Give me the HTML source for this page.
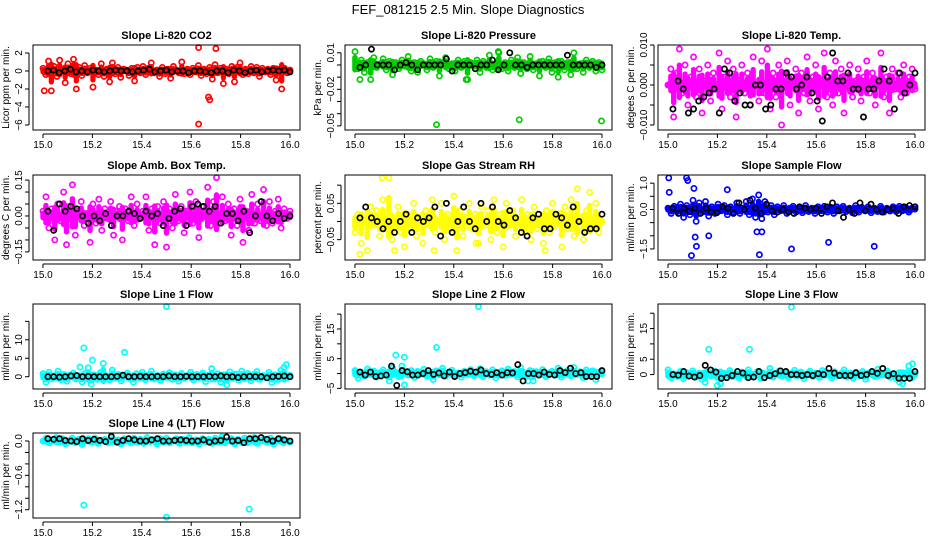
<!DOCTYPE html>
<html><head><meta charset="utf-8"><style>
body{margin:0;background:#fff;}
svg{display:block;font-family:"Liberation Sans",Arial,sans-serif;}
</style></head><body>
<svg id="chart" width="936" height="540" viewBox="0 0 936 540">
<rect width="936" height="540" fill="#fff"/>
<text x="468" y="14" text-anchor="middle" font-size="13">FEF_081215  2.5 Min. Slope Diagnostics</text>
</svg>
<script>
// ---- data (x evenly spaced over 15.0..16.0 for band and black series) ----
const xTicks = [15.0, 15.2, 15.4, 15.6, 15.8, 16.0];
const xTickLabels = ["15.0", "15.2", "15.4", "15.6", "15.8", "16.0"];

const co2Vals = [0.3,-0.4,1.1,-2.2,0.5,-0.6,1.2,0.2,-1.3,0.8,-0.3,1.3,-2.0,0.4,-0.5,0.6,-0.2,0.3,-1.8,0.1,-0.4,0.8,-0.6,0.2,-1.2,0.9,-0.3,0.4,-0.7,0.2,0.1,-0.5,0.3,-1.1,0.4,-0.2,0.5,-0.4,0.3,0.9,-0.2,0.1,-0.6,0.4,-0.3,0.2,-0.8,0.5,0.1,-0.2,1.0,-0.3,0.2,-0.4,0.3,-0.1,0.6,-0.5,0.2,-0.3,0.4,-0.9,0.7,-0.2,0.3,-1.4,0.2,-0.3,0.5,-1.2,0.4,0.9,-0.4,0.2,-0.3,0.5,-0.2,0.4,-0.6,0.3,-0.1,0.2,-0.4,0.3,-1.0,0.2,-2.0,0.3,-0.2,0.1];
const co2Black = [0.0,0.1,-0.2,0.0,0.2,-0.1,0.0,-0.1,0.1,0.0,-0.1,0.0,0.1,0.0,0.0,-0.1,0.0,0.1,0.2,-0.1,0.0,0.1,-0.1,0.0,0.0,-0.2,0.0,0.0,-0.1,-0.2,0.0,0.0,-0.2,0.1,0.0,-0.2,0.0,0.1,-0.1,0.0,0.1,0.0,0.1,-0.1];
const co2OutX = [15.63,15.70,15.63,15.67,15.675,15.005];
const co2OutY = [2.6,2.5,-5.9,-2.9,-3.2,-2.2];

const presVals = [0.011,-0.003,0.004,-0.006,0.002,-0.012,0.006,-0.002,0.001,0.005,-0.004,0.003,-0.008,0.002,-0.003,0.004,-0.001,0.007,-0.005,0.002,-0.006,0.003,0.001,-0.004,0.005,-0.002,0.003,-0.009,0.002,0.006,-0.003,0.001,-0.005,0.004,-0.002,0.003,-0.012,0.002,-0.001,0.004,-0.006,0.003,-0.002,0.008,-0.004,0.001,0.010,-0.003,0.002,-0.005,0.004,-0.002,0.006,-0.007,0.002,-0.003,0.007,-0.004,0.001,-0.009,0.003,-0.002,0.005,-0.006,0.002,-0.010,0.003,-0.004,0.002,-0.008,0.010,-0.003,0.001,-0.006,0.004,-0.002,0.003,-0.005,0.002,-0.004];
const presBlack = [-0.002,0.000,0.013,0.000,0.000,0.000,-0.004,0.000,0.002,0.000,-0.004,0.000,0.000,0.000,0.000,0.005,-0.005,0.000,0.000,0.000,-0.003,0.000,0.000,0.004,-0.004,0.000,0.010,0.000,0.000,-0.002,0.000,0.000,0.000,0.000,0.000,0.000,0.008,0.000,0.000,0.000,0.000,-0.002,0.000];
const presOutX = [15.33,15.665,15.998,15.02,15.45,15.58];
const presOutY = [-0.049,-0.045,-0.046,-0.012,-0.012,0.011];

const tempVals = [0.000,0.004,-0.008,0.003,0.009,-0.002,0.005,-0.005,0.002,0.007,-0.003,0.004,-0.007,0.001,0.005,-0.004,0.003,-0.001,0.008,-0.006,0.002,0.006,-0.003,0.004,-0.008,0.001,0.005,-0.002,0.003,-0.005,0.007,0.000,-0.004,0.006,-0.002,0.009,-0.006,0.003,-0.003,0.005,-0.010,0.002,0.006,-0.005,0.001,0.004,-0.007,0.003,-0.002,0.007,-0.004,0.002,0.005,-0.006,0.001,0.008,-0.003,0.003,-0.005,0.006,-0.002,0.004,-0.007,0.002,0.005,-0.003,0.001,0.004,-0.004,0.002,0.006,-0.002,0.003,-0.005,0.001,0.008,-0.003,0.002,-0.007,0.004,-0.001,0.003,-0.003,0.005,-0.002,0.002,0.004,-0.001];
const tempBlack = [-0.006,0.001,-0.001,-0.007,-0.006,-0.004,-0.003,-0.002,-0.001,-0.007,0.004,0.003,-0.004,-0.002,-0.005,-0.005,0.000,0.000,-0.006,-0.005,-0.001,-0.001,0.003,0.002,-0.001,0.000,0.002,-0.002,-0.004,-0.009,0.002,0.008,0.001,0.001,0.003,-0.001,-0.001,-0.008,-0.001,-0.001,0.001,0.004,0.001,-0.006,0.003,-0.002,0.000,0.003];

const ambVals = [0.02,0.08,-0.05,0.03,-0.10,0.05,-0.02,0.10,-0.12,0.04,0.13,-0.08,0.02,0.06,-0.04,0.01,-0.11,0.05,-0.03,0.07,-0.06,0.03,-0.01,0.06,-0.08,0.02,0.04,-0.10,0.03,-0.02,0.08,-0.04,0.05,-0.01,0.02,0.08,-0.06,0.03,-0.12,0.04,-0.03,0.06,-0.13,0.03,-0.05,0.09,-0.02,0.04,-0.07,0.02,0.10,-0.03,0.06,-0.09,0.04,0.01,0.12,-0.04,0.06,0.16,-0.03,0.08,-0.02,0.05,-0.08,0.03,-0.04,0.07,-0.11,0.02,-0.06,0.09,-0.03,0.05,-0.02,0.11,-0.04,0.06,-0.03,0.02,0.07,-0.05,0.03,-0.01,0.02];
const ambBlack = [0.02,-0.06,0.05,0.02,0.04,0.03,0.00,-0.03,0.00,-0.02,0.01,-0.04,0.00,0.00,0.02,0.01,-0.01,0.02,0.00,0.01,-0.04,-0.01,0.02,0.03,-0.04,0.04,0.05,0.04,0.02,0.04,-0.03,0.01,0.01,-0.02,0.02,-0.07,0.00,0.06,0.00,-0.02,0.01,-0.01,0.00];

const rhVals = [-0.03,0.02,-0.06,0.01,-0.08,0.04,-0.01,0.03,-0.04,0.06,-0.02,0.12,-0.05,0.00,0.04,-0.03,-0.07,0.02,-0.02,0.05,-0.04,0.01,-0.06,0.03,-0.01,0.06,-0.03,0.00,0.05,-0.05,0.02,-0.02,0.07,-0.08,0.03,-0.04,0.01,0.05,-0.02,0.02,-0.06,0.04,-0.01,0.03,-0.05,0.06,-0.03,0.02,-0.07,0.05,-0.01,0.03,-0.04,0.00,0.06,-0.03,0.02,-0.05,0.04,-0.02,0.01,-0.06,0.03,-0.03,0.05,-0.01,0.02,-0.07,0.04,-0.02,0.06,-0.04,0.09,0.01,-0.05,0.03,0.08,-0.02,0.05,-0.03,0.00];
const rhBlack = [0.01,0.04,0.01,0.00,-0.02,0.00,-0.03,0.00,0.02,-0.03,0.01,0.00,0.01,0.04,-0.04,0.05,-0.03,0.00,0.04,0.00,-0.02,0.05,0.00,0.04,0.00,-0.01,0.03,0.01,-0.03,-0.04,0.01,0.02,-0.02,-0.02,0.02,0.01,-0.01,0.04,0.00,-0.03,-0.02,-0.02,0.02];
const rhOutX = [15.02,15.11,15.16,15.32,15.49,15.77];
const rhOutY = [-0.09,0.12,-0.08,-0.08,-0.06,-0.08];

const flowVals = [0.05,-0.15,0.12,-0.08,0.20,-0.30,0.15,-0.20,0.35,-0.45,0.25,-0.10,0.30,-0.25,0.10,-0.15,0.20,-0.05,0.15,-0.20,0.10,-0.10,0.25,-0.15,0.05,0.30,-0.20,0.40,-0.30,0.55,-0.35,0.30,-0.10,0.15,-0.20,0.10,-0.05,0.15,-0.15,0.05,0.12,-0.10,0.08,-0.12,0.15,-0.08,0.05,-0.15,0.10,-0.05,0.12,-0.10,0.08,-0.15,0.10,-0.05,0.12,-0.08,0.05,-0.12,0.15,-0.10,0.08,-0.05,0.10,-0.12,0.05,-0.08,0.12,-0.10,0.05,-0.06,0.10,-0.08,0.12,-0.05,0.08,-0.10,0.05,0.02];
const flowBlack = [0.05,-0.15,0.05,-0.08,0.05,-0.15,0.05,-0.10,-0.12,0.10,0.05,-0.15,0.25,0.00,0.35,0.05,-0.15,0.20,-0.05,-0.10,0.00,-0.10,-0.15,0.10,0.05,0.00,0.05,-0.15,0.10,0.25,-0.05,-0.30,0.00,-0.15,0.25,-0.05,0.20,0.00,-0.10,0.00,0.05,-0.15,0.10,0.15,0.10];
const flowOutX = [15.003,15.075,15.08,15.095,15.11,15.115,15.165,15.37,15.38,15.36,15.50,15.65,15.835,15.005,15.105,15.24];
const flowOutY = [1.2,1.2,1.1,-1.75,-1.05,-1.4,-1.0,-1.72,-0.85,-0.85,-1.5,-1.25,-1.4,0.65,0.8,0.75];

const l1Vals = [0.8,-1.5,1.2,-0.5,0.3,1.5,-0.8,0.6,-1.2,0.4,1.0,-0.6,0.2,-1.4,0.9,2.4,-2.0,0.5,-0.7,1.1,3.6,0.3,-0.9,1.8,-0.4,0.6,-1.1,0.2,1.0,-0.5,-1.5,0.8,-0.3,1.2,-0.8,0.4,1.5,-0.6,0.3,-1.0,0.7,-0.2,1.1,-0.7,0.5,-1.2,0.9,-0.4,0.3,1.2,-0.9,0.6,-0.3,1.0,-1.3,0.4,2.2,-0.6,0.8,-1.5,0.5,-2.2,1.3,-0.4,0.7,-0.9,1.5,-0.5,0.9,-1.1,0.6,1.4,-0.7,0.3,-0.2,1.2,-1.6,0.5,-0.8,1.7,2.5,-0.3,0.4];
const l1Black = [0.0,0.0,-0.1,0.0,0.2,0.3,0.0,0.1,0.0,0.0,0.0,0.0,0.1,0.4,0.0,0.0,0.1,0.0,0.0,0.1,0.0,0.2,0.0,0.0,0.1,0.0,0.0,0.0,0.1,0.0,0.2,0.0,0.0,-0.2,0.0,0.1,0.0,0.0,-0.3,0.0,0.1,0.2,0.0];
const l1OutX = [15.5,15.165,15.20,15.33,15.15,15.985];
const l1OutY = [19.0,7.8,4.5,6.6,2.6,3.3];

const l2Vals = [1.0,-1.5,0.5,-0.8,1.5,-0.3,0.8,-1.2,0.3,1.2,-0.6,-2.5,1.8,0.4,-1.0,2.5,0.6,-0.5,1.0,-1.3,0.7,-0.2,1.4,-0.8,0.3,-2.0,0.9,-0.4,1.8,-0.9,0.5,1.1,-0.6,0.2,-1.2,0.8,-0.3,1.3,-0.7,0.4,1.6,-1.0,0.6,-0.5,1.2,-1.4,0.3,0.9,-0.6,1.5,-0.2,0.7,-1.1,1.9,0.4,-0.8,1.0,-2.5,0.6,-0.4,1.3,-1.0,0.2,0.8,-0.5,1.8,-1.2,0.5,1.0,-0.7,2.0,-0.3,0.6,-1.4,1.2,-0.6,0.9,-2.0,0.4,0.7];
const l2Black = [0.5,-0.5,0.5,-1.0,-0.8,-0.5,2.5,-4.0,1.0,0.6,-0.5,-0.5,0.0,1.0,-0.3,0.2,-0.8,0.5,-1.0,0.0,0.3,0.8,0.5,1.2,0.0,-0.3,0.3,-0.5,0.3,0.2,3.0,-2.5,0.0,0.0,-0.5,0.5,-0.3,-0.5,1.0,0.3,1.8,0.0,0.3,-1.0,-1.0,-1.0,1.0];
const l2OutX = [15.5,15.33,15.165,15.20,15.20,15.70];
const l2OutY = [22.5,8.8,6.2,5.5,-3.8,-2.5];

const l3Vals = [1.5,-1.0,0.3,-0.6,1.0,-1.3,0.6,-0.2,1.2,-0.8,0.4,-1.5,-2.5,0.9,-0.4,1.1,-0.9,-3.0,0.5,-0.2,1.3,-0.7,0.3,-1.1,0.8,-0.3,1.5,-0.6,0.2,1.0,-1.2,0.5,-0.4,2.0,-0.8,0.3,1.2,-0.5,0.7,-1.0,0.4,1.4,-0.3,0.8,-1.3,0.2,1.1,-0.6,0.5,-0.9,1.3,-0.2,0.6,-1.1,0.9,-0.4,0.3,1.5,-0.8,0.5,-1.2,0.7,-0.3,1.0,-1.5,0.4,0.8,-0.6,1.7,-0.2,0.5,1.1,-0.9,0.3,-1.4,-2.5,0.6,-0.3,1.2,-1.0,0.2];
const l3Black = [0.0,-0.2,1.0,-0.5,-0.8,-0.3,3.0,1.5,0.8,-1.2,-1.0,-0.3,1.0,0.5,-1.0,-0.8,1.0,-1.0,-0.3,0.3,1.2,1.0,0.0,0.0,-0.3,0.0,-0.3,0.3,0.0,2.0,0.5,-0.3,-0.3,-0.3,0.6,-0.3,0.0,1.0,0.4,2.0,-0.3,0.3,-1.2,-1.2,-1.2,1.0];
const l3OutX = [15.5,15.165,15.33,15.975,15.99,15.20,15.95];
const l3OutY = [22.0,8.2,8.2,2.8,3.5,-3.5,-3.0];

const l4Vals = [0.00,0.05,-0.03,0.02,0.06,-0.02,0.04,-0.05,0.01,0.05,-0.03,0.03,-0.06,0.02,0.04,-0.02,0.05,-0.04,0.01,0.03,-0.03,0.06,-0.01,0.02,-0.05,0.04,0.00,-0.03,0.05,-0.02,0.03,-0.04,0.06,-0.01,0.02,-0.05,0.04,-0.02,0.05,-0.03,0.01,0.04,-0.04,0.03,-0.02,0.06,-0.03,0.02,-0.05,0.04,-0.01,0.03,-0.04,0.05,-0.02,0.07,-0.03,0.01,0.04,-0.05,0.03,-0.02,0.05,-0.03,0.02,0.06,-0.04,0.01,0.03,-0.02,0.05,-0.05,0.02,0.04,-0.03,0.01,-0.02];
const l4Black = [0.04,0.03,0.04,0.01,0.00,-0.01,0.04,0.01,0.03,0.01,-0.01,0.08,-0.02,0.01,0.04,0.02,0.00,0.00,0.02,0.04,0.00,0.00,0.01,0.02,0.01,0.00,0.00,0.02,-0.02,0.00,0.01,0.07,0.00,0.01,-0.03,0.04,0.04,0.06,0.03,0.00,0.04,0.02,0.00];
const l4OutX = [15.165,15.50,15.835];
const l4OutY = [-1.12,-1.33,-1.19];

// ---- layout (not data) ----
const colLeft = [33, 345, 658];
const rowTop = [45, 175, 304, 433];
const panels = [
 {c:0,r:0,title:"Slope Li-820 CO2",ylab:"Licor ppm per min.",ymin:-6.56,ymax:2.89,ticks:[-6,-4,-2,0,2],labels:["−6","−4","−2","0","2"],color:"#ff0000",vals:co2Vals,black:co2Black,ox:co2OutX,oy:co2OutY},
 {c:1,r:0,title:"Slope Li-820 Pressure",ylab:"kPa per min.",ymin:-0.0534,ymax:0.0164,ticks:[0.01,0,-0.01,-0.02,-0.03,-0.04,-0.05],labels:["0.01","","","−0.02","","","−0.05"],color:"#00cc00",vals:presVals,black:presBlack,ox:presOutX,oy:presOutY},
 {c:2,r:0,title:"Slope Li-820 Temp.",ylab:"degees C per min.",ymin:-0.01125,ymax:0.010,ticks:[0.01,0.005,0,-0.005,-0.01],labels:["0.010","","0.000","","−0.010"],color:"#ff00ff",vals:tempVals,black:tempBlack,ox:[],oy:[]},
 {c:0,r:1,title:"Slope Amb. Box Temp.",ylab:"degrees C per min.",ymin:-0.1838,ymax:0.1711,ticks:[0.15,0.1,0.05,0,-0.05,-0.1,-0.15],labels:["0.15","","","0.00","","","−0.15"],color:"#ff00ff",vals:ambVals,black:ambBlack,ox:[],oy:[]},
 {c:1,r:1,title:"Slope Gas Stream RH",ylab:"percent per min.",ymin:-0.106,ymax:0.128,ticks:[0.1,0.05,0,-0.05],labels:["","0.05","","−0.05"],color:"#ffff00",vals:rhVals,black:rhBlack,ox:rhOutX,oy:rhOutY},
 {c:2,r:1,title:"Slope Sample Flow",ylab:"ml/min per min.",ymin:-1.92,ymax:1.31,ticks:[1,0.5,0,-0.5,-1,-1.5],labels:["1.0","","0.0","","","−1.5"],color:"#0000ff",vals:flowVals,black:flowBlack,ox:flowOutX,oy:flowOutY},
 {c:0,r:2,title:"Slope Line 1 Flow",ylab:"ml/min per min.",ymin:-3.33,ymax:19.7,ticks:[0,5,10,15],labels:["0","5","10",""],color:"#00ffff",vals:l1Vals,black:l1Black,ox:l1OutX,oy:l1OutY},
 {c:1,r:2,title:"Slope Line 2 Flow",ylab:"ml/min per min.",ymin:-5.2,ymax:23.4,ticks:[-5,0,5,10,15,20],labels:["−5","","5","","15",""],color:"#00ffff",vals:l2Vals,black:l2Black,ox:l2OutX,oy:l2OutY},
 {c:2,r:2,title:"Slope Line 3 Flow",ylab:"ml/min per min.",ymin:-4.7,ymax:23,ticks:[0,5,10,15,20],labels:["0","5","","15",""],color:"#00ffff",vals:l3Vals,black:l3Black,ox:l3OutX,oy:l3OutY},
 {c:0,r:3,title:"Slope Line 4 (LT) Flow",ylab:"ml/min per min.",ymin:-1.345,ymax:0.14,ticks:[0,-0.2,-0.4,-0.6,-0.8,-1.0,-1.2],labels:["0.0","","","−0.6","","","−1.2"],color:"#00ffff",vals:l4Vals,black:l4Black,ox:l4OutX,oy:l4OutY}
];

const NS = "http://www.w3.org/2000/svg";
const svg = document.getElementById("chart");
function mk(tag, attrs, parent){const e=document.createElementNS(NS,tag);for(const k in attrs)e.setAttribute(k,attrs[k]);parent.appendChild(e);return e;}

panels.forEach((p, pi) => {
  const L = colLeft[p.c], R = L + 267, T = rowTop[p.r], B = T + 85;
  const g = mk("g", {}, svg);
  
  
  const xs = x => L + 10 + (x - 15) * 247;
  const ys = y => B - (y - p.ymin) / (p.ymax - p.ymin) * (B - T);
  const t = mk("text", {x:(L+R)/2, y:T-6, "text-anchor":"middle", "font-size":"11", "font-weight":"bold"}, g);
  t.textContent = p.title;
  
  
  const yl = mk("text", {x:0, y:0, "text-anchor":"middle", "font-size":"10", transform:`translate(${L-24},${(T+B)/2}) rotate(-90)`}, g);
  yl.textContent = p.ylab;
  
  
  // dense core band: each colored value drawn as a short bar toward zero (dense overplotting)
  const n = p.vals.length;
  const step = 247 / (n - 1);
  for (let i = 0; i < n; i++) {
    const x = xs(15 + i / (n - 1));
    const ya = ys(p.vals[i] * 0.55), yb = ys(-p.vals[i] * 0.35);
    const ln = mk("line", {x1:x, x2:x, y1:ya, y2:yb, stroke:p.color, "stroke-width":step + 2.5, "stroke-linecap":"round"}, g);
    
    
  }
  // points
  const drawPts = (xArr, yArr, color, name) => {
    for (let i = 0; i < yArr.length; i++) {
      const c = mk("circle", {cx:xs(xArr(i)), cy:ys(yArr[i]), r:2.6, fill:"none", stroke:color, "stroke-width":1.7}, g);
      
      
    }
  };
  drawPts(i => 15 + i / (n - 1), p.vals, p.color, 'data-point');
  drawPts(i => p.ox[i], p.oy, p.color, 'outlier-point');
  drawPts(i => 15.02 + i * 0.98 / (p.black.length - 1), p.black, "#000", 'black-point');
  // box
  const box = mk("rect", {x:L, y:T, width:R-L, height:B-T, fill:"none", stroke:"#000", "stroke-width":1}, g);
  
  
  // x axis
  mk("line", {x1:xs(15), x2:xs(16), y1:B+4, y2:B+4, stroke:"#000"}, g);
  xTicks.forEach((v, i) => {
    mk("line", {x1:xs(v), x2:xs(v), y1:B+4, y2:B+8, stroke:"#000"}, g);
    const tl = mk("text", {x:xs(v), y:B+18, "text-anchor":"middle", "font-size":"10"}, g);
    tl.textContent = xTickLabels[i];
    
    
  });
  // y axis
  const y0 = ys(p.ticks.reduce((a,b)=>Math.max(a,b))), y1 = ys(p.ticks.reduce((a,b)=>Math.min(a,b)));
  mk("line", {x1:L-4, x2:L-4, y1:y0, y2:y1, stroke:"#000"}, g);
  p.ticks.forEach((v, i) => {
    mk("line", {x1:L-8, x2:L-4, y1:ys(v), y2:ys(v), stroke:"#000"}, g);
    if (p.labels[i]) {
      const tl = mk("text", {x:0, y:0, "text-anchor":"middle", "font-size":"10", transform:`translate(${L-11},${ys(v)}) rotate(-90)`}, g);
      tl.textContent = p.labels[i];
      
      
    }
  });
});
</script>
</body></html>
